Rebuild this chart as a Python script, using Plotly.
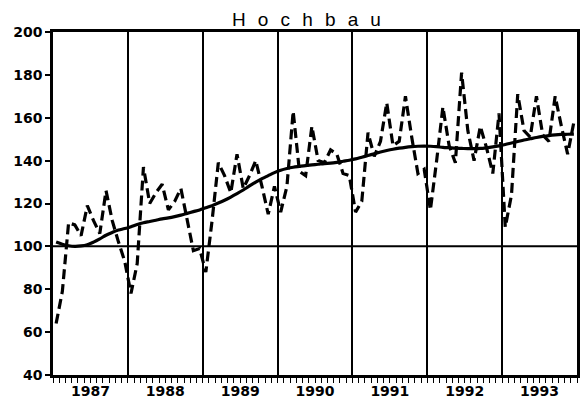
import plotly.graph_objects as go

years = ["1987", "1988", "1989", "1990", "1991", "1992", "1993"]

# Monthly index values (dashed line), Jan 1987 .. Dec 1993
monthly = [
    64, 79, 111, 110, 105, 119, 112, 106, 126, 112, 102, 93,      # 1987
    78, 92, 137, 120, 125, 129, 117, 121, 127, 112, 98, 99,       # 1988
    88, 112, 139, 133, 125, 143, 127, 133, 140, 128, 115, 128,    # 1989
    116, 128, 163, 135, 133, 156, 140, 139, 145, 143, 134, 133,   # 1990
    116, 121, 153, 142, 149, 167, 147, 149, 170, 151, 134, 136,   # 1991
    117, 140, 165, 147, 139, 181, 154, 140, 156, 146, 134, 162,   # 1992
    109, 124, 171, 154, 151, 170, 152, 149, 170, 156, 143, 158,   # 1993
]

# Smooth trend (solid line)
trend = [
    102.0, 101.0, 100.3, 100.0, 100.2, 100.8, 102.0, 103.5, 105.2, 106.5, 107.6, 108.3,
    109.2, 110.2, 111.0, 111.6, 112.2, 112.8, 113.3, 113.9, 114.6, 115.4, 116.2, 117.0,
    118.0, 119.0, 120.2, 121.5, 123.0, 124.6, 126.3, 128.2, 130.0, 131.6, 133.0, 134.4,
    135.5, 136.3, 136.9, 137.3, 137.7, 138.0, 138.3, 138.6, 138.8, 139.2, 139.7, 140.2,
    140.8, 141.6, 142.4, 143.2, 144.0, 144.7, 145.3, 145.8, 146.2, 146.5, 146.7, 146.8,
    146.7, 146.5, 146.2, 146.0, 145.8, 145.7, 145.6, 145.6, 145.7, 146.0, 146.4, 146.9,
    147.5, 148.2, 148.9, 149.6, 150.2, 150.8, 151.3, 151.7, 152.0, 152.2, 152.3, 152.4,
]

y_ticks = [40, 60, 80, 100, 120, 140, 160, 180, 200]

x = [i + 0.5 for i in range(len(monthly))]
year_bounds = [12 * k for k in range(len(years) + 1)]
year_mids = [12 * k + 6 for k in range(len(years))]

tickfont = dict(family="DejaVu Sans", size=14, color="black", weight="bold")

fig = go.Figure()
fig.add_trace(go.Scatter(
    x=x, y=monthly, mode="lines",
    line=dict(color="black", width=3.2, dash="10px,5px"),
    showlegend=False, hoverinfo="skip",
))
fig.add_trace(go.Scatter(
    x=x, y=trend, mode="lines",
    line=dict(color="black", width=3.2, shape="spline"),
    showlegend=False, hoverinfo="skip",
))
# invisible trace for label axis
fig.add_trace(go.Scatter(x=[0, 84], y=[None, None], xaxis="x2", showlegend=False, hoverinfo="skip"))

fig.add_hline(y=100, line=dict(color="black", width=2))

sp = "\u00a0\u00a0\u200a"
title_text = sp.join(list("Hochbau"))

fig.update_layout(
    width=586, height=408,
    margin=dict(l=53, r=6, t=32, b=33),
    paper_bgcolor="white", plot_bgcolor="white",
    xaxis=dict(
        range=[0, 84], tickvals=year_bounds, ticktext=[""] * len(year_bounds),
        ticks="outside", ticklen=14, tickwidth=1.5, tickcolor="black",
        showgrid=True, gridcolor="black", gridwidth=2.4,
        showline=True, linecolor="black", linewidth=2.5, mirror=True,
        zeroline=False, showticklabels=False,
        minor=dict(dtick=1, tick0=0, ticks="outside", ticklen=5, tickwidth=1.2, tickcolor="black", showgrid=False),
    ),
    xaxis2=dict(
        range=[0, 84], overlaying="x", side="bottom", anchor="y",
        tickvals=year_mids, ticktext=years, ticks="", showgrid=False, showline=False,
        zeroline=False, tickfont=tickfont, ticklabelstandoff=6,
    ),
    yaxis=dict(
        range=[40, 200], tickvals=y_ticks, ticks="outside", ticklen=5, tickwidth=1.5,
        tickcolor="black", showgrid=False, showline=True, linecolor="black",
        linewidth=2.5, mirror=True, zeroline=False, tickfont=tickfont,
    ),
    annotations=[dict(
        text=title_text,
        xref="paper", yref="paper", x=0.483, y=1, xanchor="center", yanchor="bottom",
        yshift=0, showarrow=False,
        font=dict(family="Liberation Sans", size=19, color="black"),
    )],
)

fig.write_html(
    "out.html",
    config={"displayModeBar": False},
    post_script="document.body.style.margin='0';document.body.style.padding='0';",
)
